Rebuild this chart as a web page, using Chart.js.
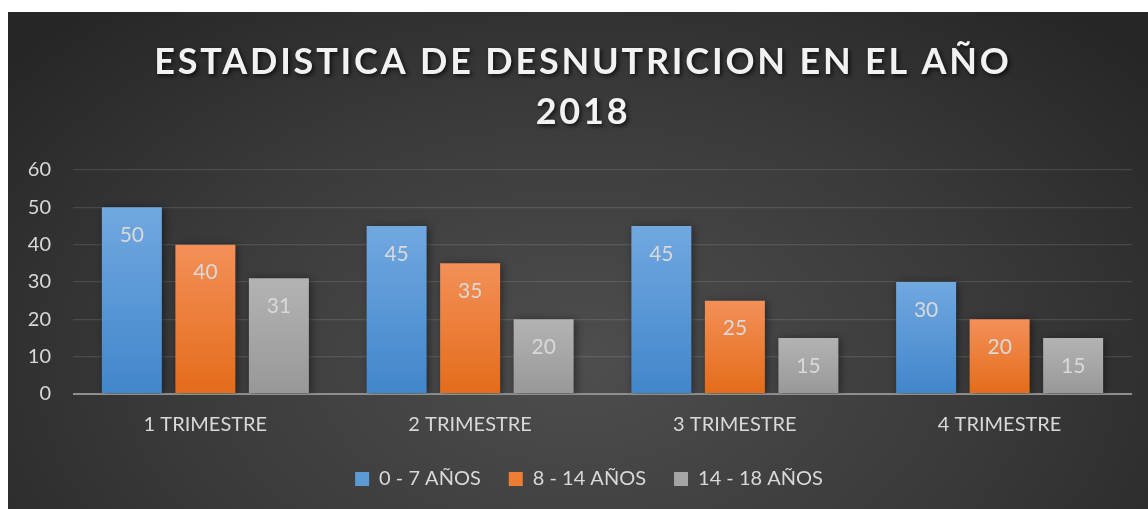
<!DOCTYPE html>
<html>
<head>
<meta charset="utf-8">
<script src="https://cdn.jsdelivr.net/npm/chart.js@4.4.1/dist/chart.umd.min.js"></script>
<style>
  html, body { margin: 0; padding: 0; background: #fff; }
  .wrap {
    position: absolute; left: 8px; top: 12px; width: 1140px; height: 497px;
    background: radial-gradient(ellipse 65% 95% at 50% 70%, #4e4e4e 0%, #3a3a3a 55%, #262626 100%);
  }
</style>
</head>
<body>
<div class="wrap"><canvas class="desnut-chart" width="1140" height="497"></canvas></div>
<script>
const titleLines = ['ESTADISTICA DE DESNUTRICION EN EL AÑO', '2018']
const categories = ['1 TRIMESTRE', '2 TRIMESTRE', '3 TRIMESTRE', '4 TRIMESTRE']
const ninos07 = [50, 45, 45, 30]
const ninos814 = [40, 35, 25, 20]
const ninos1418 = [31, 20, 15, 15]
const yTicks = [0, 10, 20, 30, 40, 50, 60]

const ctx = document.querySelector('.desnut-chart')
const textColor = '#d9d9d9'

// vertical gradient per bar, lighter at the top
function barFill(top, bottom) {
    return (c) => {
        const chart = c.chart
        const y = chart.scales.y
        if (!chart.chartArea || !y || c.raw === undefined) return bottom
        const g = chart.ctx.createLinearGradient(0, y.getPixelForValue(c.raw), 0, y.getPixelForValue(0))
        g.addColorStop(0, top)
        g.addColorStop(1, bottom)
        return g
    }
}

const titlePlugin = {
    id: 'bigTitle',
    afterDraw(chart) {
        const c = chart.ctx
        c.save()
        c.font = 'bold 36px Lato'
        c.letterSpacing = '2.8px'
        c.textAlign = 'center'
        c.textBaseline = 'middle'
        c.fillStyle = '#f2f2f2'
        c.shadowColor = 'rgba(0,0,0,0.7)'
        c.shadowBlur = 4
        c.shadowOffsetX = 2
        c.shadowOffsetY = 2
        titleLines.forEach((t, i) => c.fillText(t, chart.width / 2 + 5, 50 + i * 50))
        c.restore()
    }
}

const shadowPlugin = {
    id: 'barShadow',
    beforeDatasetsDraw(chart) {
        const c = chart.ctx
        c.save()
        c.shadowColor = 'rgba(0,0,0,0.45)'
        c.shadowBlur = 8
        c.shadowOffsetX = 2
        c.shadowOffsetY = 1
    },
    afterDatasetsDraw(chart) {
        chart.ctx.restore()
    }
}

// legend sits a little right of centre in the original
const legendShift = {
    id: 'legendShift',
    afterLayout(chart) {
        chart.legend.left += 19
        chart.legend.right += 19
    }
}

const labelPlugin = {
    id: 'barLabels',
    afterDatasetsDraw(chart) {
        const c = chart.ctx
        c.save()
        c.font = '21px Lato'
        c.fillStyle = textColor
        c.textAlign = 'center'
        c.textBaseline = 'middle'
        chart.data.datasets.forEach((ds, i) => {
            chart.getDatasetMeta(i).data.forEach((bar, j) => {
                c.fillText(ds.data[j], bar.x, bar.y + 28)
            })
        })
        c.restore()
    }
}

new Chart(ctx, {
    type: 'bar',
    data: {
        labels: categories,
        datasets: [
            {
                label: '0 - 7 AÑOS',
                data: ninos07,
                backgroundColor: barFill('#71a8e0', '#4186cb'),
                legendColor: '#5b9bd5',
            },
            {
                label: '8 - 14 AÑOS',
                data: ninos814,
                backgroundColor: barFill('#f39058', '#e46c1a'),
                legendColor: '#ed7d31',
            },
            {
                label: '14 - 18 AÑOS',
                data: ninos1418,
                backgroundColor: barFill('#b3b3b3', '#989898'),
                legendColor: '#a5a5a5',
            },
        ]
    },
    options: {
        responsive: false,
        animation: false,
        categoryPercentage: 0.833,
        barPercentage: 0.816,
        layout: {
            padding: { top: 158, right: 16, bottom: 10, left: 0 }
        },
        scales: {
            x: {
                grid: { display: false },
                border: { display: false },
                ticks: {
                    color: textColor,
                    font: { family: 'Lato', size: 20 },
                    padding: 11,
                },
                afterFit(scale) { scale.height = 47 }
            },
            y: {
                min: 0,
                max: 60,
                afterBuildTicks(scale) { scale.ticks = yTicks.map(v => ({ value: v })) },
                border: { display: false },
                grid: {
                    drawTicks: false,
                    color: (c) => c.tick.value === 0 ? '#8f8f8f' : 'rgba(255,255,255,0.11)',
                    lineWidth: (c) => c.tick.value === 0 ? 2 : 1.3,
                },
                ticks: {
                    color: textColor,
                    font: { family: 'Lato', size: 20 },
                    padding: 22,
                },
                afterFit(scale) { scale.width = 65 }
            }
        },
        plugins: {
            legend: {
                position: 'bottom',
                labels: {
                    color: textColor,
                    font: { family: 'Lato', size: 20 },
                    boxWidth: 14,
                    boxHeight: 14,
                    padding: 28,
                    generateLabels(chart) {
                        return chart.data.datasets.map((ds, i) => ({
                            text: ds.label,
                            fillStyle: ds.legendColor,
                            strokeStyle: ds.legendColor,
                            lineWidth: 0,
                            fontColor: textColor,
                            datasetIndex: i,
                        }))
                    }
                }
            },
            tooltip: { enabled: false },
            title: { display: false }
        }
    },
    plugins: [shadowPlugin, labelPlugin, titlePlugin, legendShift]
})
</script>
</body>
</html>
